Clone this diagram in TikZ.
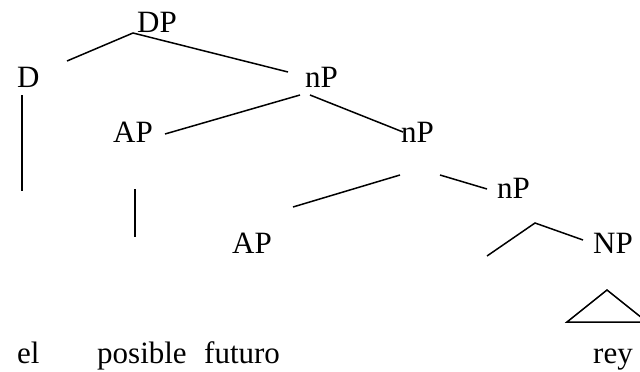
\documentclass[tikz,border=0pt]{standalone}
\usepackage{fontspec}
\setmainfont{Liberation Serif}
\begin{document}
\begin{tikzpicture}[x=1pt,y=-1pt,
  lbl/.style={anchor=base west,inner sep=0pt,font=\fontsize{31}{36}\selectfont},
  edge/.style={line width=1.5pt}]
\useasboundingbox (0,0) rectangle (640,372);
% labels
\node[lbl] (DP)  at (137,32)  {DP};
\node[lbl] (D)   at (17,87)   {D};
\node[lbl] (nP1) at (305,87)  {nP};
\node[lbl] (AP1) at (113,142) {AP};
\node[lbl] (nP2) at (401,142) {nP};
\node[lbl] (nP3) at (497,198) {nP};
\node[lbl] (AP2) at (232,253) {AP};
\node[lbl] (NP)  at (593,253) {NP};
\node[lbl] (el)  at (17,363)  {el};
\node[lbl] (pos) at (97,363)  {posible};
\node[lbl] (fut) at (204,363) {futuro};
\node[lbl] (rey) at (593,363) {rey};
% branch points
\coordinate (dpb) at (133,33);
\coordinate (dl)  at (67,61);
\coordinate (dr)  at (288,72);
\coordinate (n1l) at (300,95);
\coordinate (a1)  at (165,134);
\coordinate (n1r) at (310,95);
\coordinate (n2t) at (403,132);
\coordinate (n2l) at (400,175);
\coordinate (a2)  at (293,207);
\coordinate (n2r) at (440,175);
\coordinate (n3t) at (487,189);
\coordinate (n3l) at (487,256);
\coordinate (n3p) at (535,223);
\coordinate (npt) at (583,240);
\coordinate (ta)  at (607,290);
\coordinate (tl)  at (567,322);
\coordinate (tr)  at (647,322);
\coordinate (dv1) at (22,95);
\coordinate (dv2) at (22,191);
\coordinate (av1) at (135,189);
\coordinate (av2) at (135,237);
% connectors
\draw[edge] (dl) -- (dpb) -- (dr);
\draw[edge] (a1) -- (n1l);
\draw[edge] (n1r) -- (n2t);
\draw[edge] (a2) -- (n2l);
\draw[edge] (n2r) -- (n3t);
\draw[edge] (n3l) -- (n3p) -- (npt);
\draw[edge] (tl) -- (ta) -- (tr) -- cycle;
\draw[edge] (dv1) -- (dv2);
\draw[edge] (av1) -- (av2);
\end{tikzpicture}
\end{document}
